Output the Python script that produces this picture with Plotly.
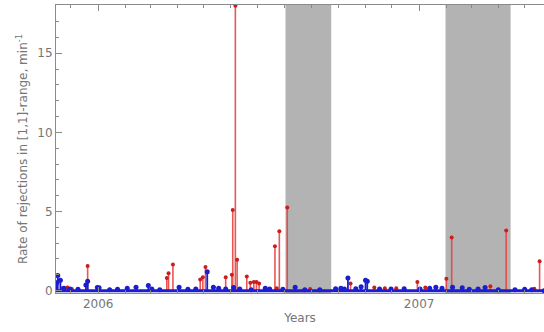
import plotly.graph_objects as go

# ---- data ----
red_dates = ["2005-11-21", "2005-11-27", "2005-12-02", "2005-12-20", "2006-03-20", "2006-03-22",
             "2006-03-27", "2006-04-27", "2006-04-30", "2006-05-03", "2006-05-26", "2006-06-02",
             "2006-06-03", "2006-06-06", "2006-06-08", "2006-06-19", "2006-06-23", "2006-06-27",
             "2006-06-30", "2006-07-03", "2006-07-21", "2006-07-23", "2006-07-26", "2006-08-04",
             "2006-08-30", "2006-10-15", "2006-11-11", "2006-11-23", "2006-12-06", "2006-12-30",
             "2007-01-08", "2007-02-01", "2007-02-07", "2007-03-23", "2007-04-10", "2007-05-12",
             "2007-05-18"]
red_values = [0.15, 0.2, 0.1, 1.55, 0.8, 1.1,
              1.65, 0.7, 0.85, 1.5, 0.85, 1.0,
              5.1, 18.0, 1.95, 0.9, 0.5, 0.55,
              0.55, 0.45, 2.8, 0.15, 3.75, 5.25,
              0.1, 0.45, 0.2, 0.15, 0.15, 0.55,
              0.2, 0.75, 3.35, 0.28, 3.8, 0.12,
              1.85]

blue_dates = ["2005-11-15", "2005-11-16", "2005-11-19", "2005-11-23", "2005-11-30", "2005-12-09",
              "2005-12-18", "2005-12-20", "2005-12-31", "2006-01-02", "2006-01-14", "2006-01-23",
              "2006-02-03", "2006-02-13", "2006-02-27", "2006-03-03", "2006-03-12", "2006-04-03",
              "2006-04-13", "2006-04-22", "2006-05-05", "2006-05-12", "2006-05-18", "2006-05-26",
              "2006-06-04", "2006-06-11", "2006-06-24", "2006-07-10", "2006-07-15", "2006-07-30",
              "2006-08-13", "2006-08-24", "2006-09-10", "2006-09-28", "2006-10-04", "2006-10-08",
              "2006-10-12", "2006-10-21", "2006-10-27", "2006-11-01", "2006-11-03", "2006-11-17",
              "2006-11-30", "2006-12-15", "2007-01-02", "2007-01-13", "2007-01-20", "2007-01-27",
              "2007-02-08", "2007-02-19", "2007-02-27", "2007-03-09", "2007-03-17", "2007-04-01",
              "2007-04-20", "2007-05-01", "2007-05-09", "2007-05-23"]
blue_values = [0.5, 0.95, 0.65, 0.15, 0.1, 0.08,
               0.35, 0.6, 0.2, 0.18, 0.05, 0.08,
               0.15, 0.22, 0.32, 0.1, 0.05, 0.22,
               0.08, 0.1, 1.2, 0.22, 0.15, 0.1,
               0.2, 0.1, 0.05, 0.15, 0.1, 0.08,
               0.22, 0.05, 0.05, 0.12, 0.15, 0.1,
               0.8, 0.12, 0.25, 0.65, 0.6, 0.1,
               0.1, 0.12, 0.1, 0.15, 0.22, 0.15,
               0.22, 0.18, 0.08, 0.1, 0.2, 0.05,
               0.05, 0.08, 0.05, 0.0]

gaps = [("2006-08-02", "2006-09-23"), ("2007-01-31", "2007-04-15")]

x_range = ["2005-11-14", "2007-05-23"]
y_range = [-0.15, 18.05]
y_ticks = [0, 5, 10, 15]
x_ticks = ["2006-01-01", "2007-01-01"]
x_ticklabels = ["2006", "2007"]

RED = "#e84444"
RED_DOT = "#c81e1e"
BLUE = "#1c1cd0"
GREY_TXT = "#757575"
AXIS = "#8a8a8a"


def stems(xs, ys):
    sx, sy = [], []
    for x, y in zip(xs, ys):
        sx += [x, x, None]
        sy += [0, y, None]
    return sx, sy


fig = go.Figure()

# red stems + dots
rsx, rsy = stems(red_dates, red_values)
fig.add_trace(go.Scatter(x=rsx, y=rsy, mode="lines", line=dict(color=RED, width=1.6),
                         opacity=0.9, hoverinfo="skip", showlegend=False))
fig.add_trace(go.Scatter(x=red_dates, y=red_values, mode="markers",
                         marker=dict(color=RED_DOT, size=4), showlegend=False))

# blue baseline + stems + dots
fig.add_trace(go.Scatter(x=[x_range[0], blue_dates[-1]], y=[0, 0], mode="lines",
                         line=dict(color=BLUE, width=3), hoverinfo="skip", showlegend=False))
bsx, bsy = stems(blue_dates, blue_values)
fig.add_trace(go.Scatter(x=bsx, y=bsy, mode="lines", line=dict(color=BLUE, width=1.8),
                         hoverinfo="skip", showlegend=False))
fig.add_trace(go.Scatter(x=blue_dates, y=blue_values, mode="markers",
                         marker=dict(color=BLUE, size=5), showlegend=False))

for a, b in gaps:
    fig.add_shape(type="rect", xref="x", yref="paper", x0=a, x1=b, y0=0, y1=1,
                  fillcolor="#b3b3b3", line=dict(width=0), layer="below")

font_family = "DejaVu Sans, Verdana, sans-serif"

fig.update_layout(
    width=544, height=332,
    margin=dict(l=56, r=0, t=5, b=39),
    paper_bgcolor="white", plot_bgcolor="white",
    font=dict(family=font_family, size=12, color=GREY_TXT),
    showlegend=False,
    xaxis=dict(
        type="date", range=x_range,
        tickmode="array", tickvals=x_ticks, ticktext=x_ticklabels,
        ticks="inside", ticklen=6, tickcolor=AXIS, tickwidth=1,
        minor=dict(dtick="M1", tick0="2006-01-01", ticks="inside", ticklen=3,
                   tickcolor=AXIS, showgrid=False),
        showline=True, linecolor=AXIS, linewidth=1, mirror="allticks",
        showgrid=False, zeroline=False,
        tickfont=dict(size=12, color=GREY_TXT),
        title=dict(text="Years", font=dict(size=12, color=GREY_TXT), standoff=3),
    ),
    yaxis=dict(
        range=y_range,
        tickmode="array", tickvals=y_ticks,
        ticks="inside", ticklen=6, tickcolor=AXIS, tickwidth=1,
        minor=dict(dtick=1, tick0=0, ticks="inside", ticklen=3, tickcolor=AXIS, showgrid=False),
        showline=True, linecolor=AXIS, linewidth=1,
        showgrid=False, zeroline=False,
        tickfont=dict(size=12, color=GREY_TXT),
        title=dict(text="Rate of rejections in [1,1]-range, min<sup>-1</sup>",
                   font=dict(size=12, color=GREY_TXT), standoff=7),
    ),
)

fig.write_html("out.html")
